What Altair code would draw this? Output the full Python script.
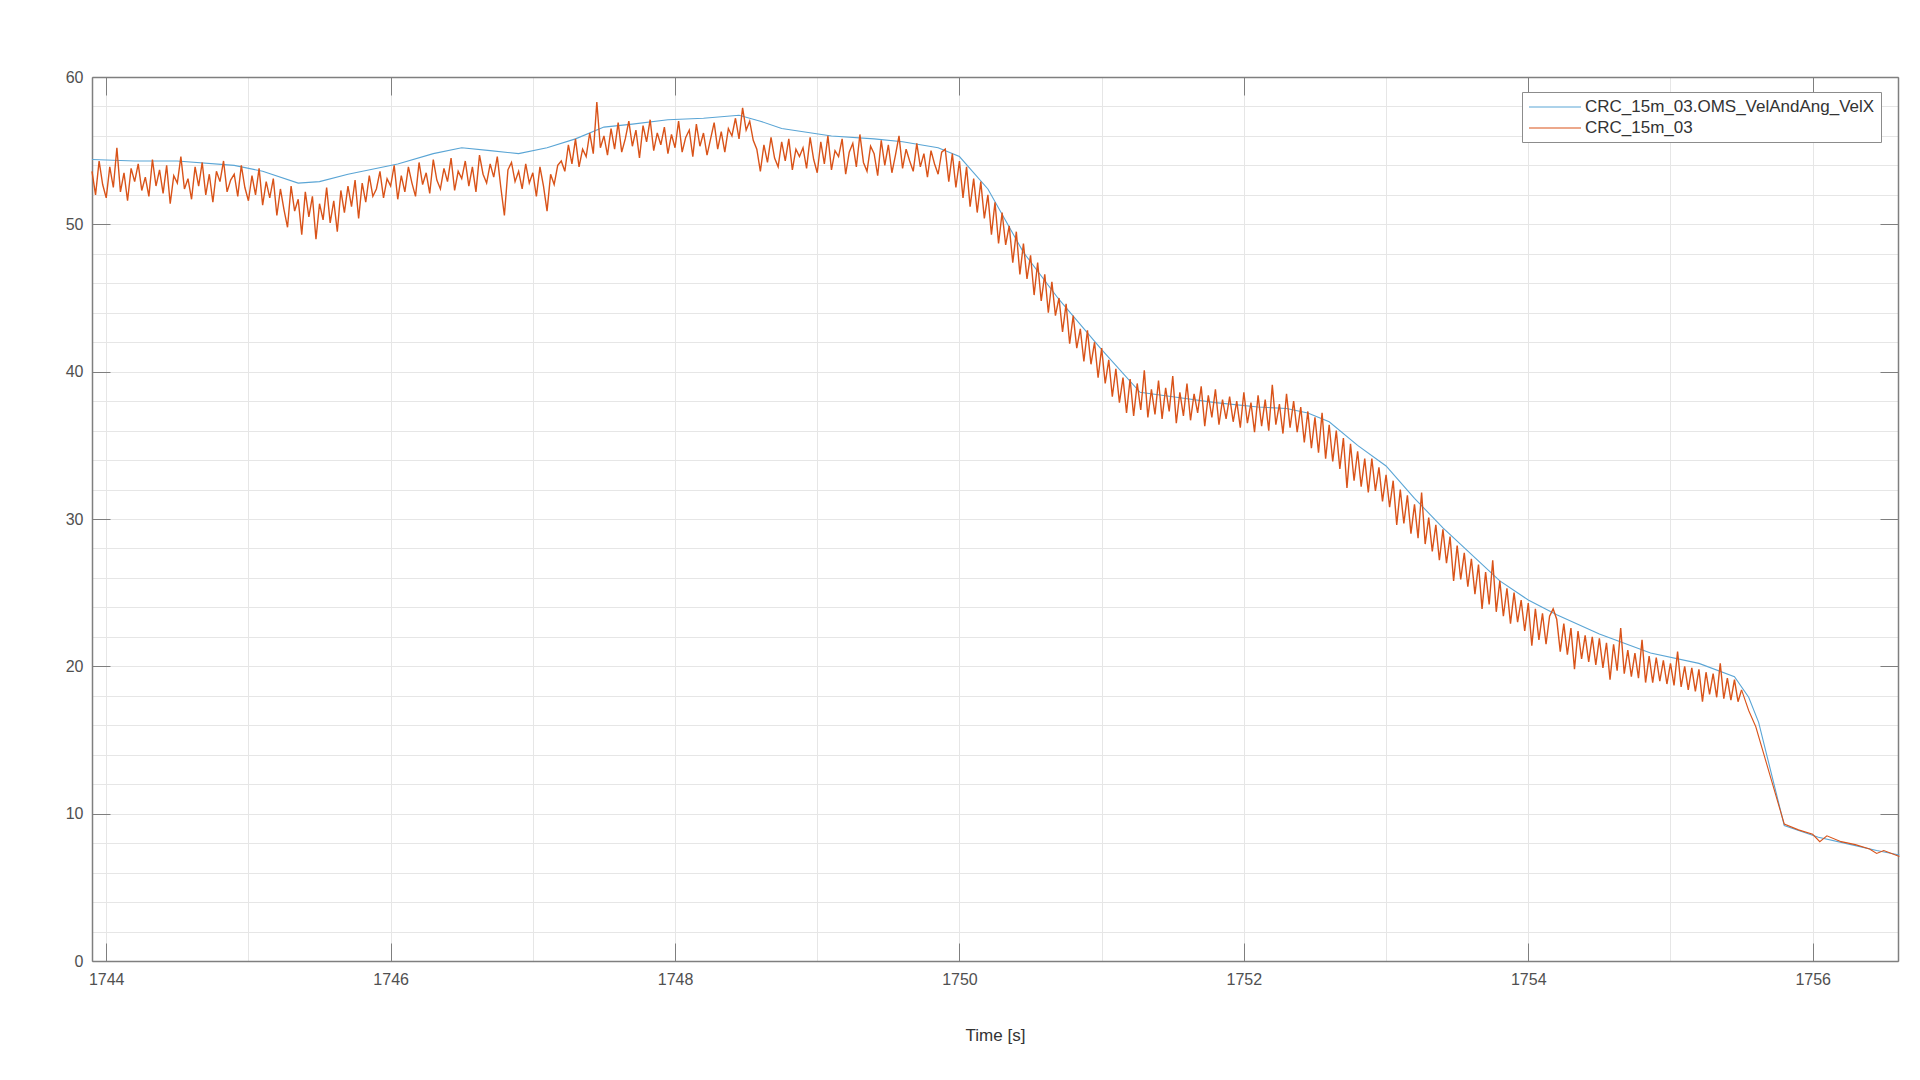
import altair as alt
import pandas as pd

SERIES_BLUE = "CRC_15m_03.OMS_VelAndAng_VelX"
SERIES_ORANGE = "CRC_15m_03"
COLOR_BLUE = "#5aa5d5"
COLOR_ORANGE = "#d95319"

# Smooth reference signal (blue)
BLUE_T = [1743.9, 1744.2, 1744.5, 1744.9, 1745.1, 1745.35, 1745.5, 1745.7, 1746.05, 1746.3,
          1746.5, 1746.7, 1746.9, 1747.1, 1747.3, 1747.5, 1747.7, 1747.95, 1748.2, 1748.45,
          1748.6, 1748.75, 1749.1, 1749.4, 1749.6, 1749.85, 1750.0, 1750.2, 1750.45, 1750.7,
          1751.0, 1751.27, 1751.5, 1751.8, 1752.1, 1752.3, 1752.45, 1752.6, 1752.8, 1753.0,
          1753.2, 1753.4, 1753.6, 1753.8, 1754.0, 1754.2, 1754.5, 1754.86, 1755.2, 1755.45,
          1755.55, 1755.62, 1755.8, 1756.04, 1756.27, 1756.45, 1756.61]
BLUE_V = [54.4, 54.3, 54.3, 54.0, 53.6, 52.8, 52.9, 53.4, 54.1, 54.8,
          55.2, 55.0, 54.8, 55.2, 55.8, 56.6, 56.8, 57.1, 57.2, 57.4,
          57.0, 56.5, 56.0, 55.8, 55.6, 55.2, 54.6, 52.4, 48.1, 44.9,
          41.5, 38.6, 38.3, 37.9, 37.6, 37.5, 37.2, 36.6, 35.0, 33.6,
          31.4, 29.4, 27.6, 25.8, 24.5, 23.5, 22.2, 20.9, 20.2, 19.3,
          17.9, 16.2, 9.2, 8.4, 7.9, 7.5, 7.2]

# Noisy measured signal (orange), sampled every ORANGE_DT seconds from ORANGE_T0
ORANGE_T0 = 1743.9
ORANGE_DT = 0.025
ORANGE_S0 = [53.6, 52.0, 54.3, 52.7, 51.8, 53.9, 52.5, 55.2, 52.2, 53.5,
             51.6, 53.8, 52.9, 54.1, 52.3, 53.2, 51.9, 54.4, 52.6, 53.7,
             52.1, 54.0, 51.4, 53.3, 52.8, 54.6, 52.4, 53.1, 51.7, 53.9,
             52.6, 54.2, 52.0, 53.4, 51.5, 53.6, 52.9, 54.3, 52.2, 53.0]
ORANGE_S1 = [53.4, 51.9, 54.0, 52.5, 51.6, 53.3, 52.0, 53.8, 51.3, 52.9,
             51.8, 53.1, 50.6, 52.4, 51.0, 49.8, 52.6, 50.9, 51.7, 49.3,
             52.2, 50.5, 51.9, 49.0, 51.4, 50.3, 52.5, 50.1, 51.6, 49.5,
             52.3, 50.8, 52.6, 51.2, 53.0, 50.4, 52.8, 51.5, 53.3, 51.9]
ORANGE_S2 = [52.4, 53.6, 51.8, 53.1, 52.6, 54.0, 51.7, 53.3, 52.2, 53.9,
             52.8, 51.9, 54.2, 52.7, 53.5, 52.1, 54.4, 53.0, 52.4, 53.8,
             52.9, 54.5, 52.3, 53.6, 53.1, 54.3, 52.6, 53.9, 52.2, 54.7,
             53.4, 52.8, 54.1, 53.2, 54.6, 52.5, 50.6, 53.7, 54.2, 52.9]
ORANGE_S3 = [53.6, 52.4, 54.1, 52.8, 53.5, 51.9, 53.9, 52.6, 50.9, 53.4,
             52.7, 54.0, 54.3, 53.6, 55.4, 54.1, 55.8, 53.9, 55.1, 54.6,
             56.2, 54.8, 58.3, 55.2, 56.0, 54.7, 56.5, 55.1, 56.9, 54.9,
             55.8, 57.0, 55.3, 56.4, 54.5, 56.7, 55.6, 57.1, 55.0, 56.2]
ORANGE_S4 = [55.4, 56.6, 54.8, 56.1, 55.2, 57.0, 54.9, 55.9, 56.4, 54.6,
             56.8, 55.3, 56.2, 54.7, 55.8, 56.9, 55.1, 56.3, 54.9, 56.5,
             56.0, 57.2, 55.8, 57.9, 56.4, 57.0, 55.7, 55.1, 53.6, 55.4,
             54.2, 55.9, 54.5, 53.9, 55.6, 54.3, 55.8, 53.7, 55.1, 54.6]
ORANGE_S5 = [55.2, 53.8, 55.9, 54.4, 53.5, 55.6, 54.1, 56.0, 53.7, 55.0,
             54.6, 55.8, 53.4, 54.9, 55.5, 53.9, 56.1, 54.2, 53.6, 55.3,
             54.8, 53.3, 55.7, 54.0, 55.4, 53.5, 54.7, 56.0, 53.8, 55.1,
             54.3, 53.6, 55.5, 53.9, 54.8, 53.2, 55.0, 54.1, 53.4, 54.9]
ORANGE_S6 = [55.1, 52.9, 54.8, 52.5, 54.3, 51.8, 53.9, 51.2, 53.1, 50.8,
             52.9, 50.4, 52.0, 49.3, 51.5, 48.7, 50.8, 48.6, 49.9, 47.4,
             49.5, 46.6, 48.7, 46.3, 47.9, 45.2, 47.4, 44.8, 46.6, 44.0,
             46.1, 43.8, 45.0, 42.7, 44.6, 41.9, 43.8, 41.6, 42.9, 40.7]
ORANGE_S7 = [42.8, 40.5, 42.0, 39.6, 41.6, 39.2, 40.8, 38.3, 40.2, 37.9,
             39.6, 37.2, 39.5, 37.0, 39.2, 37.4, 40.1, 36.9, 38.8, 37.1,
             39.4, 36.8, 38.9, 37.3, 39.7, 36.5, 38.6, 37.0, 39.2, 36.7,
             38.5, 37.2, 39.0, 36.3, 38.4, 36.9, 38.8, 36.4, 38.1, 36.8]
ORANGE_S8 = [38.3, 36.6, 38.0, 36.2, 38.6, 36.5, 37.9, 35.9, 38.4, 36.3,
             38.1, 36.0, 39.1, 36.4, 37.8, 35.8, 38.5, 36.2, 38.0, 35.9,
             37.6, 35.2, 37.3, 34.8, 36.9, 34.5, 37.2, 34.1, 36.4, 33.9,
             36.0, 33.4, 35.5, 32.1, 35.1, 32.6, 34.6, 32.2, 34.1, 31.8]
ORANGE_S9 = [34.1, 31.9, 33.5, 31.2, 33.0, 30.8, 32.6, 29.6, 32.0, 29.7,
             31.6, 29.0, 31.0, 28.7, 31.8, 28.3, 30.1, 27.8, 29.6, 27.2,
             29.3, 27.0, 28.8, 25.8, 28.2, 25.9, 27.7, 25.4, 27.3, 24.9,
             26.9, 23.9, 26.4, 24.2, 27.2, 23.7, 25.8, 23.4, 25.3, 22.9]
ORANGE_S10 = [25.0, 23.0, 24.5, 22.4, 24.3, 21.4, 23.9, 21.8, 23.6, 21.5,
              23.4, 23.9, 23.2, 21.0, 22.9, 20.8, 22.6, 19.8, 22.4, 20.5,
              22.1, 20.3, 22.0, 20.1, 21.9, 19.9, 21.6, 19.1, 21.5, 19.7,
              22.6, 19.5, 21.1, 19.3, 20.9, 19.2, 21.8, 18.9, 20.7, 18.9]
ORANGE_S11 = [20.6, 19.0, 20.4, 18.8, 20.2, 18.7, 21.0, 18.6, 20.0, 18.4,
              19.9, 18.3, 19.8, 17.6, 19.6, 18.1, 19.5, 17.9, 20.2, 17.8,
              19.2, 17.7, 19.1, 17.6, 18.4]
ORANGE_TAIL_T = [1755.5, 1755.55, 1755.6, 1755.7, 1755.8, 1755.9, 1756.0, 1756.05, 1756.1,
                 1756.2, 1756.3, 1756.4, 1756.45, 1756.5, 1756.61]
ORANGE_TAIL_V = [18.4, 17.0, 15.9, 12.6, 9.3, 8.9, 8.6, 8.1, 8.5,
                 8.1, 7.9, 7.6, 7.3, 7.5, 7.1]

X_MAJOR = [1744, 1746, 1748, 1750, 1752, 1754, 1756]
X_GRID = [1744.0, 1744.5, 1745.0, 1745.5, 1746.0, 1746.5, 1747.0, 1747.5, 1748.0, 1748.5,
          1749.0, 1749.5, 1750.0, 1750.5, 1751.0, 1751.5, 1752.0, 1752.5, 1753.0, 1753.5,
          1754.0, 1754.5, 1755.0, 1755.5, 1756.0, 1756.5]
Y_MAJOR = [0, 10, 20, 30, 40, 50, 60]
Y_GRID = [0, 2, 4, 6, 8, 10, 12, 14, 16, 18, 20, 22, 24, 26, 28, 30,
          32, 34, 36, 38, 40, 42, 44, 46, 48, 50, 52, 54, 56, 58, 60]
X_DOMAIN = [1743.9, 1756.6]
Y_DOMAIN = [0, 60]

W, H = 1806, 884

orange_vals = (ORANGE_S0 + ORANGE_S1 + ORANGE_S2 + ORANGE_S3 + ORANGE_S4 + ORANGE_S5 +
               ORANGE_S6 + ORANGE_S7 + ORANGE_S8 + ORANGE_S9 + ORANGE_S10 + ORANGE_S11)
orange_df = pd.DataFrame({
    "t": [round(ORANGE_T0 + ORANGE_DT * i, 4) for i in range(len(orange_vals))],
    "v": orange_vals,
    "series": SERIES_ORANGE,
})
tail_df = pd.DataFrame({"t": ORANGE_TAIL_T, "v": ORANGE_TAIL_V, "series": SERIES_ORANGE})
blue_df = pd.DataFrame({"t": BLUE_T, "v": BLUE_V, "series": SERIES_BLUE})

xscale = alt.Scale(domain=X_DOMAIN, nice=False, zero=False)
yscale = alt.Scale(domain=Y_DOMAIN, nice=False, zero=False)
color = alt.Color(
    "series:N",
    scale=alt.Scale(domain=[SERIES_BLUE, SERIES_ORANGE], range=[COLOR_BLUE, COLOR_ORANGE]),
    legend=alt.Legend(
        title=None, orient="none", legendX=1430, legendY=15,
        fillColor="white", strokeColor="#8c8c8c", padding=6,
        symbolType="M-3.25,0H3.25", symbolSize=256, symbolStrokeWidth=1.2,
        symbolOffset=18, labelOffset=21,
        labelFontSize=17, labelColor="#333333", rowPadding=4,
        labelLimit=400,
    ),
)

TICK_COLOR = "#7f7f7f"

# Blue layer: top box line with inward ticks, right box line with inward ticks
blue = alt.Chart(blue_df).mark_line(strokeWidth=1.1).encode(
    x=alt.X("t:Q", scale=xscale, axis=alt.Axis(
        orient="bottom", offset=-H, values=X_MAJOR, labels=False, grid=False,
        ticks=True, tickSize=18, tickColor=TICK_COLOR, domain=True,
        domainColor=TICK_COLOR, domainWidth=1.5, title=None)),
    y=alt.Y("v:Q", scale=yscale, axis=alt.Axis(
        orient="left", offset=-W, values=Y_MAJOR, labels=False, grid=False,
        ticks=True, tickSize=18, tickColor=TICK_COLOR, domain=True,
        domainColor=TICK_COLOR, domainWidth=1.5, title=None)),
    color=color,
)

# Orange layer: labelled bottom / left axes with grid
orange = alt.Chart(orange_df).mark_line(strokeWidth=1.4).encode(
    x=alt.X("t:Q", scale=xscale, axis=alt.Axis(
        orient="bottom", values=X_GRID, format="d",
        labelExpr="datum.value % 2 === 0 ? datum.label : ''",
        labelOverlap=False, labelFlush=False, labelPadding=10,
        grid=True, gridColor="#e6e6e6", ticks=False, domain=True,
        domainColor=TICK_COLOR, domainWidth=1.5,
        title="Time [s]", titlePadding=40)),
    y=alt.Y("v:Q", scale=yscale, axis=alt.Axis(
        orient="left", values=Y_GRID, format="d",
        labelExpr="datum.value % 10 === 0 ? datum.label : ''",
        labelOverlap=False, labelFlush=False, labelPadding=9,
        grid=True, gridColor="#e6e6e6", ticks=False, domain=True,
        domainColor=TICK_COLOR, domainWidth=1.5, title=None)),
    color=color,
)

# Tail layer: inward ticks on bottom and left edges
tail = alt.Chart(tail_df).mark_line(strokeWidth=1.1).encode(
    x=alt.X("t:Q", scale=xscale, axis=alt.Axis(
        orient="top", offset=-H, values=X_MAJOR, labels=False, grid=False,
        ticks=True, tickSize=18, tickColor=TICK_COLOR, domain=False, title=None)),
    y=alt.Y("v:Q", scale=yscale, axis=alt.Axis(
        orient="right", offset=-W, values=Y_MAJOR, labels=False, grid=False,
        ticks=True, tickSize=18, tickColor=TICK_COLOR, domain=False, title=None)),
    color=color,
)

chart = alt.layer(blue, orange, tail).resolve_axis(
    x="independent", y="independent"
).properties(
    width=W, height=H,
    padding={"left": 92, "top": 77, "right": 22, "bottom": 119},
    autosize=alt.AutoSizeParams(type="none"),
    background="white",
).configure_view(
    stroke=None
).configure(
    font="Liberation Sans"
).configure_axis(
    labelFont="Liberation Sans", labelFontSize=16, labelColor="#505050",
    titleFont="Liberation Sans", titleFontSize=17, titleFontWeight="normal",
    titleColor="#333333",
).configure_legend(
    labelFont="Liberation Sans"
)

chart.save("out.html", embed_options={"renderer": "svg", "actions": False})
